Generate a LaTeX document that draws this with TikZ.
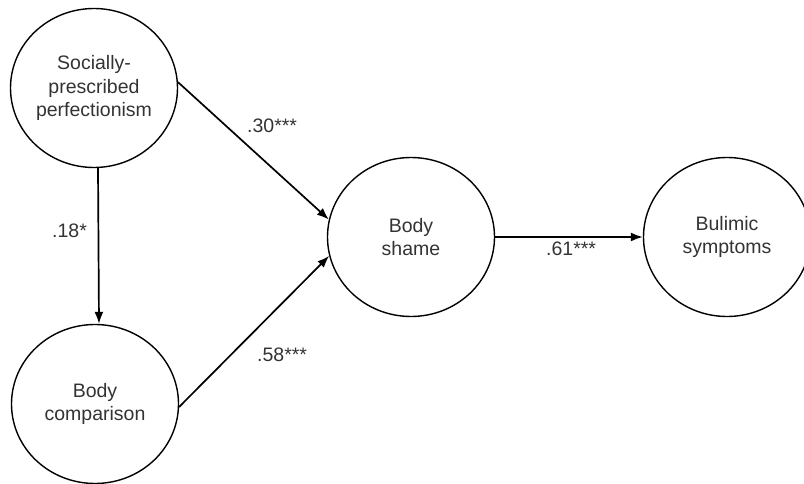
\documentclass[tikz,border=0pt]{standalone}
\usepackage{fontspec}
\setmainfont{Liberation Sans}
\usetikzlibrary{arrows.meta,shapes.geometric}

\begin{document}
\begin{tikzpicture}[x=1pt,y=-1pt,
  construct/.style={draw=black, line width=1.4pt, ellipse, inner sep=0pt,
    minimum width=167pt, minimum height=159pt, align=center,
    text=black!80, font=\fontsize{19.5}{23.5}\selectfont},
  path/.style={draw=black, line width=1.7pt,
    -{Latex[length=12pt,width=9pt]}},
  coef/.style={anchor=base west, inner sep=0pt, text=black!80,
    font=\fontsize{19.5}{23.5}\selectfont}]

  \useasboundingbox (0,0) rectangle (804,484);

  % latent constructs
  \node[construct] (spp)  at (94,88)   {Socially-\\prescribed\\perfectionism};
  \node[construct] (comp) at (95,404)  {Body\\comparison};
  \node[construct] (shame) at (411,237) {Body\\shame};
  \node[construct] (bul)  at (727,237) {Bulimic\\symptoms};

  % structural paths
  \draw[path] ([xshift=4pt]spp.south) -- ([xshift=4pt]comp.north);
  \draw[path] (spp.4) -- (shame.168);
  \draw[path] (comp.-2) -- (shame.193);
  \draw[path] (shame.east) -- (bul.west);

  % path coefficients
  \node[coef] (c18) at (52,237)  {.18*};
  \node[coef] (c30) at (247,133) {.30***};
  \node[coef] (c58) at (257,361) {.58***};
  \node[coef] (c61) at (546,255) {.61***};
\end{tikzpicture}
\end{document}
